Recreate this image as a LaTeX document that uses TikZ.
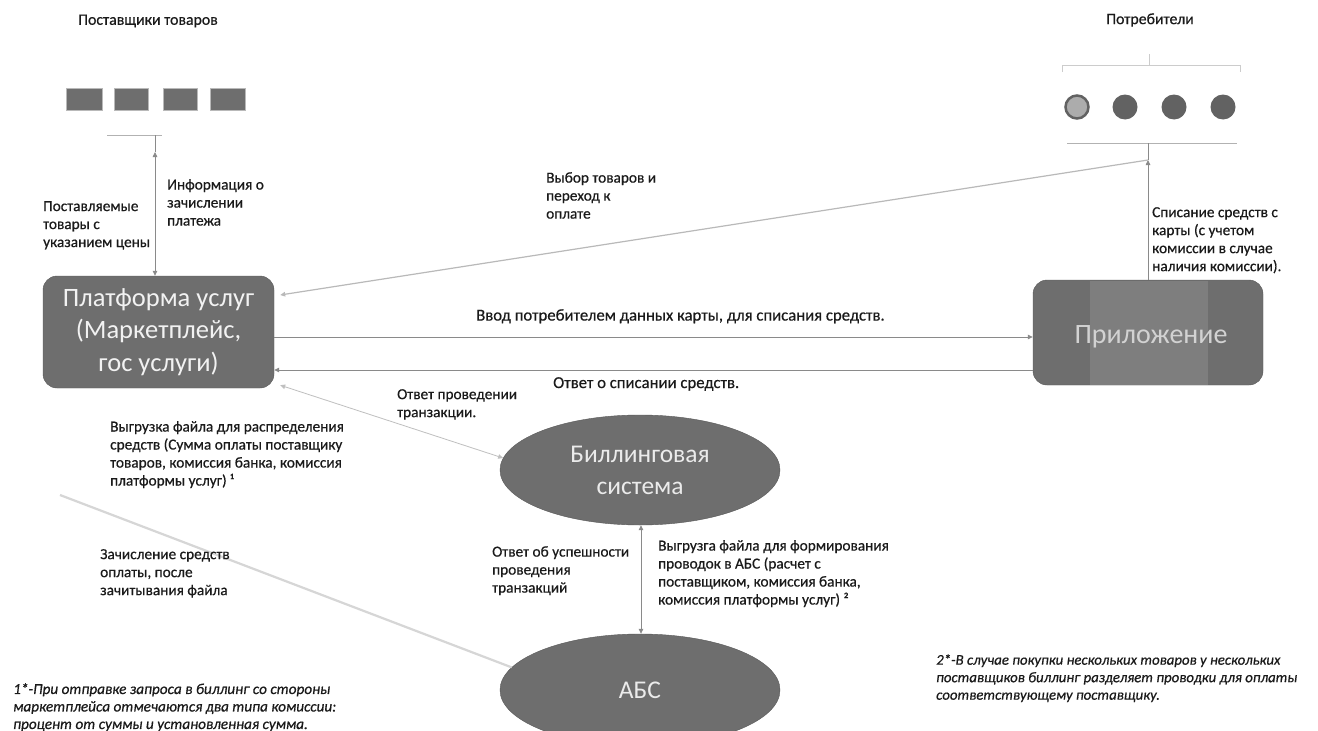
\documentclass[tikz,border=0pt]{standalone}
\usepackage{fontspec}
\setmainfont{Carlito}
\newfontfamily\lblfont{Carlito}[FakeBold=0.5]
\usetikzlibrary{shapes.geometric,arrows.meta,calc}
\definecolor{boxgray}{HTML}{6E6E6E}
\definecolor{bandgray}{HTML}{7E7E7E}
\definecolor{dotgray}{HTML}{626262}
\definecolor{txt}{HTML}{1A1A1A}
\definecolor{linegray}{HTML}{8A8A8A}
\definecolor{faintgray}{HTML}{D6D6D6}
\begin{document}
\begin{tikzpicture}[x=1pt,y=-1pt,
  lbl/.style={font=\lblfont\fontsize{15.3}{18}\selectfont, align=left, inner sep=0pt, anchor=north west, text=txt},
  biglbl/.style={font=\lblfont\fontsize{16.7}{20}\selectfont, align=left, inner sep=0pt, anchor=north west, text=txt},
  note/.style={font=\lblfont\fontsize{15.2}{17.5}\selectfont\itshape, align=left, inner sep=0pt, anchor=north west, text=txt},
  title/.style={font=\lblfont\fontsize{15.8}{18}\selectfont, inner sep=0pt, text=txt},
  tip/.style={-{Triangle[length=5pt,width=4.5pt]}},
  both/.style={{Triangle[length=5pt,width=4.5pt]}-{Triangle[length=5pt,width=4.5pt]}},
  conn/.style={draw=linegray, line width=0.8pt},
  faint/.style={draw=faintgray, line width=2.2pt},
  roundbox/.style={draw=boxgray!80!black, fill=boxgray, rounded corners=14pt, inner sep=0pt, align=center},
  oval/.style={ellipse, draw=boxgray!80!black, fill=boxgray, inner sep=0pt, align=center, text=white!92!black}
]
\useasboundingbox (0,0) rectangle (1318,731);
\fill[white] (0,0) rectangle (1318,731);

% titles
\node[title] (tsup) at (148,21) {Поставщики товаров};
\node[title] (tcons) at (1150,20) {Потребители};

% suppliers
\foreach \i/\x/\w in {1/66/36,2/114/34,3/163/34,4/210/35}{
  \node[draw=gray!55, fill=boxgray, minimum width=\w pt, minimum height=22pt, inner sep=0pt, anchor=north west] (s\i) at (\x,88) {};
}
\draw[conn, draw=gray!60] (107,135) -- (162,135);
\coordinate (supB) at (155,135);
\coordinate (supT) at (155,152);
\draw[conn] (supB) -- (supT);

% consumers
\node[circle, draw=dotgray, line width=2.5pt, fill=gray!65, minimum size=23pt, inner sep=0pt] (c1) at (1077,107) {};
\foreach \i/\x in {2/1125,3/1174,4/1223}{
  \node[circle, fill=dotgray, minimum size=25pt, inner sep=0pt] (c\i) at (\x,107) {};
}
\draw[draw=gray!40, line width=1pt] (1062,72) -- (1062,65) -- (1240,65) -- (1240,72);
\draw[draw=gray!40, line width=1pt] (1149,65) -- (1149,54);
\draw[conn, draw=gray!60] (1067,143) -- (1237,143);
\coordinate (consB) at (1148,143);
\coordinate (consT) at (1148,160);
\draw[conn] (consB) -- (consT);

% main boxes
\node[roundbox, minimum width=231pt, minimum height=112pt, text=white!95!black,
      font=\fontsize{26.5}{32.5}\selectfont] (plat) at (158.5,332)
      {Платформа услуг\\(Маркетплейс,\\гос услуги)};
\node[roundbox, minimum width=230pt, minimum height=105pt] (app) at (1148,332.5) {};
\fill[bandgray] (1090,280.5) rectangle (1208,384.5);
\node[font=\fontsize{28}{32}\selectfont, text=gray!35, inner sep=0pt] (apptext) at (1151,337) {Приложение};

\node[oval, minimum width=280pt, minimum height=110pt, font=\fontsize{25.5}{32}\selectfont] (bill) at (640,470) {Биллинговая\\система};
\node[oval, minimum width=280pt, minimum height=112pt, font=\fontsize{25.5}{30}\selectfont] (abs) at (640,690) {АБС};

% connectors
\draw[conn, both] (supT) -- (supT |- plat.north);
\draw[conn, tip] (app.north) -- (consT);
\draw[conn, draw=gray!55, line width=1.2pt, tip] (consT) -- ([xshift=6pt,yshift=37pt]plat.east);
\draw[conn, tip] ([yshift=-5pt]plat.east) -- ([yshift=-4.5pt]app.west);
\draw[conn, tip] ([yshift=-37.5pt]app.west) -- ([yshift=-38pt]plat.east);
\draw[conn, draw=gray!50, both] ([xshift=6pt,yshift=3pt]plat.south east) -- (bill.175);
\draw[conn, both] (bill.south -| 641,0) -- (abs.north -| 641,0);
\coordinate (fadeStart) at (60,495);
\draw[faint] (fadeStart) -- (abs.170);

% labels
\node[lbl] (lA) at (43,201) {Поставляемые\\товары с\\указанием цены};
\node[lbl] (lB) at (167,179) {Информация о\\зачислении\\платежа};
\node[lbl] (lC) at (546,172) {Выбор товаров и\\переход к\\оплате};
\node[lbl] (lD) at (1152,207) {Списание средств с\\карты (с учетом\\комиссии в случае\\наличия комиссии).};
\node[biglbl] (lE) at (476,309) {Ввод потребителем данных карты, для списания средств.};
\node[biglbl] (lF) at (553,377) {Ответ о списании средств.};
\node[lbl] (lG) at (397,389) {Ответ проведении\\транзакции.};
\node[lbl] (lH) at (110,421) {Выгрузка файла для распределения\\средств (Сумма оплаты поставщику\\товаров, комиссия банка, комиссия\\платформы услуг) ¹};
\node[lbl] (lI) at (100,549) {Зачисление средств\\оплаты, после\\зачитывания файла};
\node[lbl] (lJ) at (492,546) {Ответ об успешности\\проведения\\транзакций};
\node[lbl] (lK) at (658,540) {Выгрузга файла для формирования\\проводок в АБС (расчет с\\поставщиком, комиссия банка,\\комиссия платформы услуг) ²};
\node[note] (n1) at (13,683) {1*-При отправке запроса в биллинг со стороны\\маркетплейса отмечаются два типа комиссии:\\процент от суммы и установленная сумма.};
\node[note, font=\lblfont\fontsize{14.8}{17.5}\selectfont\itshape] (n2) at (936,654) {2*-В случае покупки нескольких товаров у нескольких\\поставщиков биллинг разделяет проводки для оплаты\\соответствующему поставщику.};
\end{tikzpicture}
\end{document}
